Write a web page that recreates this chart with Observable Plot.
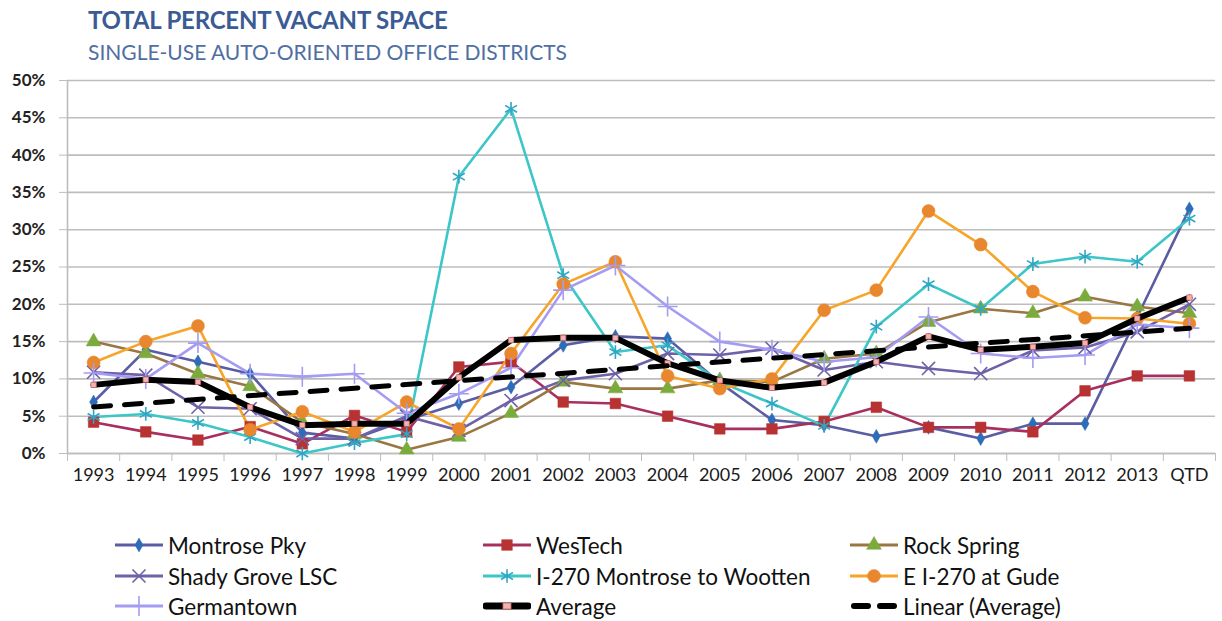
<!DOCTYPE html>
<html><head><meta charset="utf-8">
<script src="https://cdn.jsdelivr.net/npm/d3@7"></script>
<script src="https://cdn.jsdelivr.net/npm/@observablehq/plot@0.6"></script>
<style>
body{margin:0;background:#fff;font-family:Lato,"Open Sans",sans-serif;}
#wrap{width:1222px;height:621px;position:relative;overflow:hidden;background:#fff}
#title{position:absolute;left:88px;top:5px;font-size:24px;font-weight:bold;color:#3a5b94;letter-spacing:-0.2px}
#subtitle{position:absolute;left:88px;top:39px;font-size:21px;color:#4f6fa3}
#chart{position:absolute;left:0;top:70px}
#legend{position:absolute;left:0;top:500px;width:1222px;height:121px}
.item{position:absolute;display:flex;align-items:center;font-size:22.5px;color:#111;white-space:nowrap}
.item svg{margin-right:5px}
</style></head>
<body><div id="wrap">
<div id="title">TOTAL PERCENT VACANT SPACE</div>
<div id="subtitle">SINGLE-USE AUTO-ORIENTED OFFICE DISTRICTS</div>
<div id="chart"></div>
<div id="legend"></div>
</div>
<script>
const years = ["1993","1994","1995","1996","1997","1998","1999","2000","2001","2002","2003","2004","2005","2006","2007","2008","2009","2010","2011","2012","2013","QTD"];

const montrosePky = [6.9,13.9,12.3,10.7,2.8,2.0,4.5,6.7,8.9,14.5,15.7,15.4,9.5,4.5,3.8,2.3,3.5,2.0,4.0,4.0,18.3,32.8];
const wesTech     = [4.2,2.9,1.8,3.6,1.3,5.1,2.9,11.6,12.3,6.9,6.7,5.0,3.3,3.3,4.3,6.2,3.5,3.5,2.9,8.4,10.4,10.4];
const rockSpring  = [15.0,13.4,10.7,9.0,4.2,2.6,0.5,2.2,5.4,9.6,8.7,8.7,9.8,9.6,12.7,13.4,17.6,19.4,18.8,21.0,19.7,18.8];
const shadyGrove  = [10.9,10.5,6.2,6.0,2.0,2.0,5.0,3.1,7.1,9.8,10.7,13.4,13.2,14.1,11.2,12.3,11.4,10.7,13.8,14.2,16.3,20.0];
const i270MW      = [4.9,5.3,4.1,2.2,0.0,1.4,2.6,37.1,46.2,23.9,13.6,14.5,9.6,6.7,3.7,17.0,22.7,19.4,25.4,26.4,25.7,31.5];
const eI270Gude   = [12.2,15.0,17.1,3.2,5.6,2.9,6.9,3.3,13.4,22.7,25.7,10.4,8.7,10.0,19.2,21.9,32.5,28.0,21.7,18.2,18.1,17.4];
const germantown  = [10.8,10.0,14.8,10.7,10.3,10.7,5.4,8.0,11.5,21.9,25.2,19.7,15.0,13.9,12.3,12.9,18.3,13.4,12.8,13.2,17.3,16.8];
const average     = [9.2,9.9,9.6,6.2,3.8,4.0,4.0,10.2,15.2,15.5,15.5,12.1,9.8,8.8,9.5,12.3,15.7,13.9,14.3,14.8,18.1,20.9];

const yTicks = [0,5,10,15,20,25,30,35,40,45,50];

const series = [
  {name:"Montrose Pky", values:montrosePky, line:"#5a5ca4", mark:"#2c6cb8", symbol:"diamond", r:4.2, filled:true},
  {name:"WesTech", values:wesTech, line:"#a8305f", mark:"#b83232", symbol:"square", r:6, filled:true},
  {name:"Rock Spring", values:rockSpring, line:"#9a7643", mark:"#7bab3c", symbol:"triangle", r:5.5, filled:true},
  {name:"Shady Grove LSC", values:shadyGrove, line:"#6e61a8", mark:"#6e61a8", symbol:"times", r:6, filled:false},
  {name:"I-270 Montrose to Wootten", values:i270MW, line:"#3cc6c8", mark:"#2fa6c4", symbol:"asterisk", r:6.5, filled:false},
  {name:"E I-270 at Gude", values:eI270Gude, line:"#f7a428", mark:"#e9872e", symbol:"circle", r:6.5, filled:true},
  {name:"Germantown", values:germantown, line:"#a49cf2", mark:"#a49cf2", symbol:"plus", r:6.5, filled:false}
];

const rows = s => s.values.map((v,i)=>({i, v, year:years[i]}));
const avgRows = average.map((v,i)=>({i, v}));

const marks = [
  Plot.gridY(yTicks, {stroke:"#bdbdbd", strokeOpacity:1, strokeWidth:1.6}),
  Plot.axisY(yTicks, {tickSize:8, tickPadding:14, stroke:"#bdbdbd", tickFormat:d=>d+"%", fontSize:17, fontWeight:"bold", fill:"#222", label:null}),
  Plot.ruleX([-0.5], {stroke:"#bdbdbd", strokeWidth:1.6}),
  Plot.ruleY([0], {stroke:"#bdbdbd", strokeWidth:1.6}),
  Plot.axisX(d3.range(-0.5, 22, 1), {tickSize:8, stroke:"#bdbdbd", tickFormat:()=>"", label:null}),
  Plot.axisX(d3.range(0, 22), {tickSize:0, tickPadding:15, tickFormat:i=>years[i], fontSize:18, fill:"#1a1a1a", label:null})
];
for (const s of series) {
  const d = rows(s);
  marks.push(Plot.line(d, {x:"i", y:"v", stroke:s.line, strokeWidth:2.6}));
}
for (const s of series) {
  const d = rows(s);
  if (s.filled) marks.push(Plot.dot(d, {x:"i", y:"v", symbol:s.symbol, r:s.r, fill:s.mark, stroke:s.mark, strokeWidth:0.5}));
  else marks.push(Plot.dot(d, {x:"i", y:"v", symbol:s.symbol, r:s.r, stroke:s.mark, strokeWidth:1.6}));
}
marks.push(Plot.line(avgRows, {x:"i", y:"v", stroke:"#000", strokeWidth:6, strokeLinejoin:"round"}));
marks.push(Plot.dot(avgRows, {x:"i", y:"v", symbol:"square", r:3, fill:"#f2b3b3", stroke:"#d46a6a", strokeWidth:0.8}));
marks.push(Plot.linearRegressionY(avgRows, {x:"i", y:"v", stroke:"#000", strokeWidth:5, strokeDasharray:"17,14", strokeLinecap:"round", ci:0}));

const chart = Plot.plot({
  width:1222, height:430,
  marginLeft:67, marginRight:7, marginTop:10, marginBottom:47,
  x:{type:"linear", domain:[-0.5, 21.5]},
  y:{domain:[0, 50]},
  style:{fontFamily:"Lato, 'Open Sans', sans-serif", background:"transparent", color:"#222"},
  marks
});
document.getElementById("chart").appendChild(chart);

// legend
const legendItems = [
  ...series.slice(0,3), ...series.slice(3,6), series[6],
  {name:"Average", kind:"avg"}, {name:"Linear (Average)", kind:"lin"}
];
const colX = [115, 483, 850];
const rowY = [45, 76, 106];
const symMap = {diamond:d3.symbolDiamond, square:d3.symbolSquare, triangle:d3.symbolTriangle, circle:d3.symbolCircle, times:d3.symbolTimes, asterisk:d3.symbolAsterisk, plus:d3.symbolPlus};
const leg = d3.select("#legend");
legendItems.forEach((s, k) => {
  const col = k % 3, row = Math.floor(k / 3);
  const div = leg.append("div").attr("class","item")
    .style("left", colX[col]+"px").style("top", (rowY[row]-14)+"px").style("height","28px");
  const svg = div.append("svg").attr("width",48).attr("height",20);
  if (s.kind === "avg") {
    svg.append("line").attr("x1",3).attr("x2",45).attr("y1",10).attr("y2",10).attr("stroke","#000").attr("stroke-width",7).attr("stroke-linecap","round");
    svg.append("rect").attr("x",20).attr("y",7).attr("width",8).attr("height",6).attr("fill","#f2b3b3").attr("stroke","#d46a6a").attr("stroke-width",0.8);
  } else if (s.kind === "lin") {
    svg.append("line").attr("x1",4).attr("x2",44).attr("y1",10).attr("y2",10).attr("stroke","#000").attr("stroke-width",6).attr("stroke-linecap","round").attr("stroke-dasharray","14,12");
  } else {
    svg.append("line").attr("x1",0).attr("x2",48).attr("y1",10).attr("y2",10).attr("stroke",s.line).attr("stroke-width",3);
    const sz = Math.PI * s.r * s.r;
    svg.append("path").attr("transform","translate(24,10)")
      .attr("d", d3.symbol(symMap[s.symbol], sz)())
      .attr("fill", s.filled ? s.mark : "none")
      .attr("stroke", s.mark).attr("stroke-width", s.filled ? 0.5 : 1.6);
  }
  div.append("span").text(s.name);
});
</script>
</body></html>
